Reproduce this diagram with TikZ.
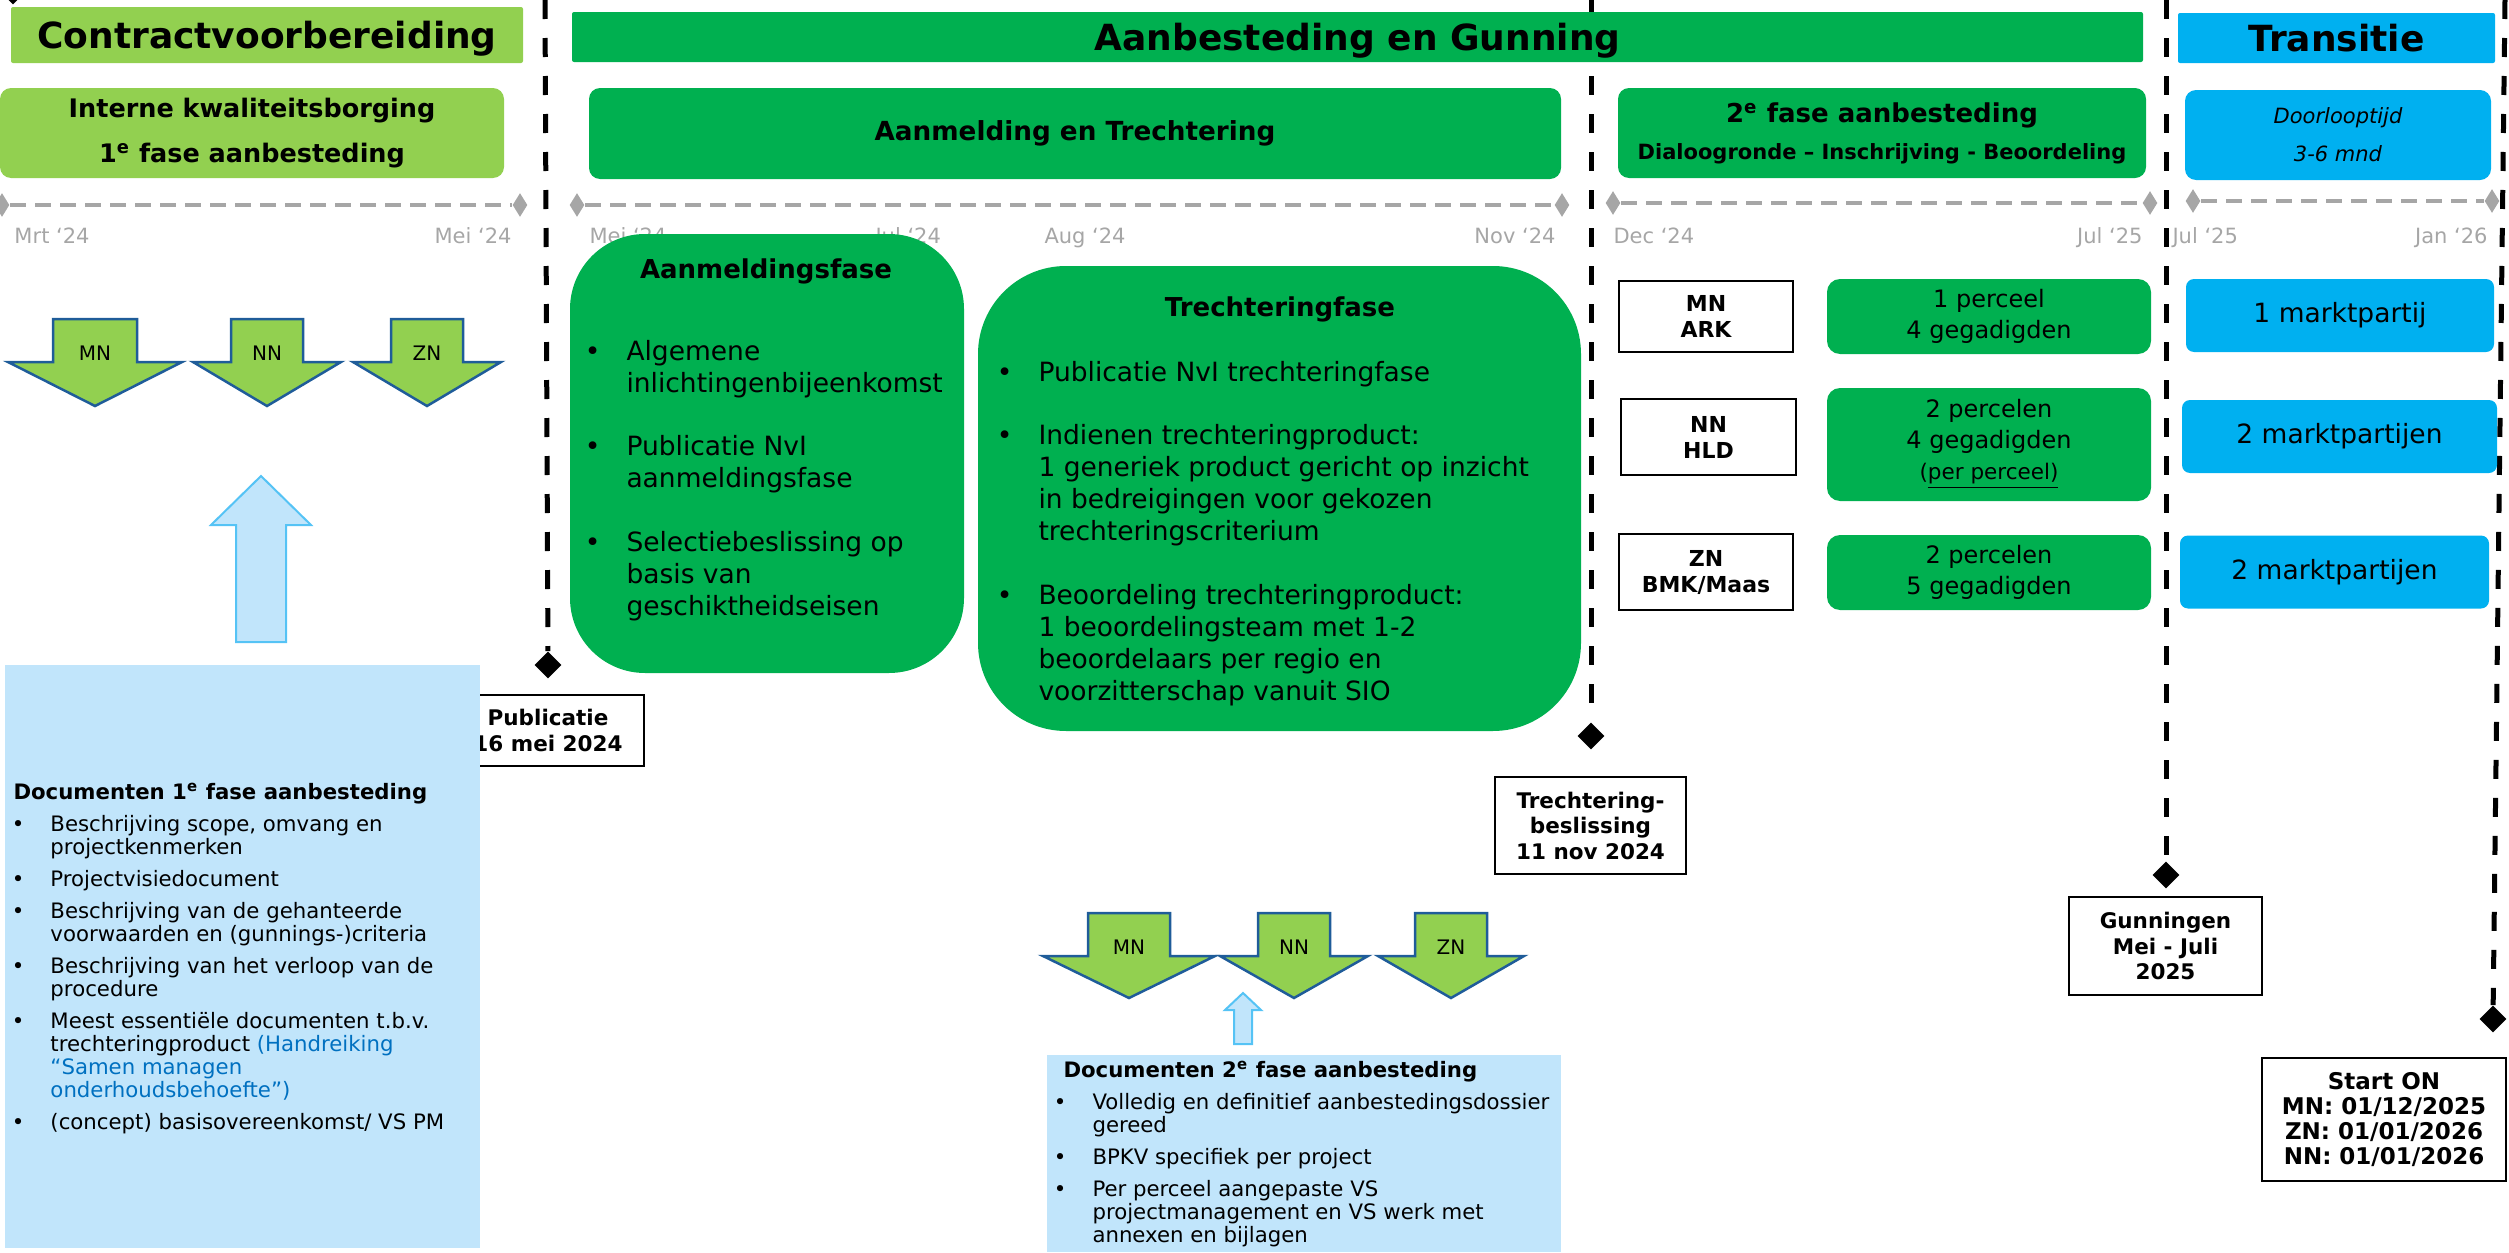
\documentclass[tikz,border=0pt]{standalone}
\usepackage{fontspec}
\setmainfont{DejaVu Sans}
\usetikzlibrary{shapes.geometric}

\definecolor{lgreen}{HTML}{92D050}
\definecolor{dgreen}{HTML}{00B050}
\definecolor{tblue}{HTML}{00B0F0}
\definecolor{docblue}{HTML}{C1E5FB}
\definecolor{arrowedge}{HTML}{1F5C99}
\definecolor{upedge}{HTML}{55C3F5}
\definecolor{linkblue}{HTML}{0070C0}
\definecolor{tlgray}{HTML}{A6A6A6}

\def\pxu{0.4pt}
\newcommand\fsz[2]{\fontsize{#1}{#2}\selectfont}
\newcommand\bul{\leavevmode\llap{\textbullet\hspace{10.4pt}}}

\tikzset{
  hdr/.style={inner sep=0, text depth=0pt, font=\fsz{14.4}{17}\bfseries, rounded corners=2*\pxu},
  phase/.style={inner sep=0, align=center, rounded corners=11*\pxu},
  bigbox/.style={inner sep=0, fill=dgreen},
  boxtitle/.style={inner sep=0, font=\fsz{10.4}{12.8}\bfseries},
  biglist/.style={anchor=base west, inner sep=0, align=left, font=\fsz{10.6}{12.8}},
  regbox/.style={draw=black, line width=1pt, fill=white, inner sep=0, align=center, font=\fsz{8.8}{10.4}\bfseries},
  countbox/.style={fill=dgreen, inner sep=0, align=center, rounded corners=13*\pxu, minimum width=324*\pxu, font=\fsz{9.6}{12.4}},
  partybox/.style={fill=tblue, inner sep=0, minimum height=73*\pxu, rounded corners=8*\pxu, font=\fsz{10.6}{12.8}},
  msbox/.style={draw=black, line width=1pt, fill=white, inner sep=0, align=center, font=\fsz{8.6}{10.2}\bfseries},
  milestone/.style={diamond, fill=black, inner sep=0, minimum width=27*\pxu, minimum height=27*\pxu},
  msline/.style={line width=2pt, dash pattern=on 7.6pt off 7.6pt},
  tick/.style={diamond, fill=tlgray, inner sep=0, minimum width=15*\pxu, minimum height=24*\pxu},
  tline/.style={draw=tlgray, line width=1.6pt, dash pattern=on 6.4pt off 3.6pt},
  datelbl/.style={text=tlgray, inner sep=0, font=\fsz{8.4}{10}},
  dnarrow/.style={fill=lgreen, draw=arrowedge, line width=1pt, line join=miter},
  arrowlbl/.style={inner sep=0, font=\fsz{8}{9.6}},
  uparrow/.style={fill=docblue, draw=upedge, line width=0.8pt},
  docbox/.style={fill=docblue, inner sep=0},
  doctitle/.style={anchor=base west, inner sep=0, font=\fsz{8.5}{9.2}\bfseries},
  doclist/.style={anchor=base west, inner sep=0, align=left, font=\fsz{8.5}{9.2}}
}

% block arrow pointing down: name, label, x, top, tip, half body, half wing
\newcommand\regionarrow[7]{%
  \draw[dnarrow] (#3-#6,#4) -- (#3+#6,#4) -- (#3+#6,#4+43) -- (#3+#7,#4+43)
    -- (#3,#5) -- (#3-#7,#4+43) -- (#3-#6,#4+43) -- cycle;
  \node[arrowlbl] (#1) at (#3,#4+34) {#2};}
% block arrow pointing up: x, tip, head base, bottom, half head, half shaft
\newcommand\docarrow[6]{%
  \draw[uparrow] (#1,#2) -- (#1+#5,#3) -- (#1+#6,#3) -- (#1+#6,#4)
    -- (#1-#6,#4) -- (#1-#6,#3) -- (#1-#5,#3) -- cycle;}

\begin{document}
\begin{tikzpicture}[x=0.4pt, y=-0.4pt]
  \useasboundingbox (0,0) rectangle (2509,1253);

  % milestones
  \foreach \i/\xa/\xb/\yb in {1/545/548/665, 2/1591/1591/736, 3/2166/2166/875, 4/2505/2493/1019} {
    \coordinate (mtop\i) at (\xa,0);
    \node[milestone] (ms\i) at (\xb,\yb) {};
    \draw[msline] (mtop\i) -- (ms\i);
  }
  \node[milestone] (mscut) at (13,-9) {};

  % headers
  \node[hdr, fill=lgreen, minimum width=512*\pxu, minimum height=56*\pxu] (contract) at (267,35) {Contractvoorbereiding};
  \node[hdr, fill=dgreen, minimum width=1571*\pxu, minimum height=50*\pxu] (aanbest) at (1357.5,37) {Aanbesteding en Gunning};
  \node[hdr, fill=tblue, minimum width=317*\pxu, minimum height=50*\pxu] (transitie) at (2336.5,38) {Transitie};

  \node[phase, fill=lgreen, minimum width=504*\pxu, minimum height=90*\pxu, font=\fsz{10.2}{18}\bfseries] (interne) at (252,133)
    {Interne kwaliteitsborging\\1\textsuperscript{e} fase aanbesteding};
  \node[phase, fill=dgreen, minimum width=972*\pxu, minimum height=91*\pxu, font=\fsz{10.5}{13}\bfseries] (aanmtrecht) at (1075,133.5)
    {Aanmelding en Trechtering};
  \node[phase, fill=dgreen, minimum width=528*\pxu, minimum height=90*\pxu, font=\fsz{8.4}{14.8}\bfseries] (fase2) at (1882,133)
    {{\fsz{10.4}{14.8}2\textsuperscript{e} fase aanbesteding}\\Dialoogronde – Inschrijving - Beoordeling};
  \node[phase, fill=tblue, minimum width=306*\pxu, minimum height=90*\pxu, font=\fsz{8.4}{15.2}\itshape] (doorloop) at (2338,135)
    {Doorlooptijd\\3-6 mnd};

  % time lines
  \foreach \i/\xa/\xb/\yy in {1/2/520/205, 2/577/1562/205, 3/1613/2150/203, 4/2193/2492/201} {
    \node[tick] (tla\i) at (\xa,\yy) {};
    \node[tick] (tlb\i) at (\xb,\yy) {};
    \draw[tline] (tla\i) -- (tlb\i);
  }
  \foreach \i/\xx/\an/\txt in {1/14/west/Mrt ‘24, 2/512/east/Mei ‘24, 3/589/west/Mei ‘24, 4/875/west/Jul ‘24,
      5/1044/west/Aug ‘24, 6/1556/east/Nov ‘24, 7/1613/west/Dec ‘24, 8/2143/east/Jul ‘25,
      9/2172/west/Jul ‘25, 10/2488/east/Jan ‘26}
    \node[datelbl, anchor=base \an] (date\i) at (\xx,243) {\txt};

  % aanmelding and trechtering (lists sit on their last baseline)
  \node[bigbox, rounded corners=75*\pxu, minimum width=394*\pxu, minimum height=439*\pxu] (aanmfase) at (767,453.5) {};
  \node[boxtitle] (aanmtitle) at (766,271) {Aanmeldingsfase};
  \node[biglist] (aanmlist) at (626,615) {\bul Algemene\\inlichtingenbijeenkomst\\[12.6pt]%
    \bul Publicatie NvI\\aanmeldingsfase\\[12.6pt]%
    \bul Selectiebeslissing op\\basis van\\geschiktheidseisen};

  \node[bigbox, rounded corners=88*\pxu, minimum width=603*\pxu, minimum height=465*\pxu] (trechfase) at (1279.5,498.5) {};
  \node[boxtitle] (trechtitle) at (1280,309) {Trechteringfase};
  \node[biglist] (trechlist) at (1038,700) {\bul Publicatie NvI trechteringfase\\[12.6pt]%
    \bul Indienen trechteringproduct:\\1 generiek product gericht op inzicht\\in bedreigingen voor gekozen\\trechteringscriterium\\[12.6pt]%
    \bul Beoordeling trechteringproduct:\\1 beoordelingsteam met 1-2\\beoordelaars per regio en\\voorzitterschap vanuit SIO};

  % regions
  \node[regbox, minimum width=174*\pxu, minimum height=71*\pxu] (mnark) at (1706,316.5) {MN\\ARK};
  \node[regbox, minimum width=175*\pxu, minimum height=76*\pxu] (nnhld) at (1708.5,437) {NN\\HLD};
  \node[regbox, minimum width=174*\pxu, minimum height=76*\pxu] (znbmk) at (1706,572) {ZN\\BMK/Maas};

  \node[countbox, minimum height=75*\pxu] (mncount) at (1989,316.5) {1 perceel\\4 gegadigden};
  \node[countbox, minimum height=113*\pxu] (nncount) at (1989,444.5) {2 percelen\\4 gegadigden\\{\fsz{8.6}{12.8}(\underline{per perceel)}}};
  \node[countbox, minimum height=75*\pxu] (zncount) at (1989,572.5) {2 percelen\\5 gegadigden};

  \node[partybox, minimum width=308*\pxu] (mnparty) at (2340,315.5) {1 marktpartij};
  \node[partybox, minimum width=315*\pxu] (nnparty) at (2339.5,436.5) {2 marktpartijen};
  \node[partybox, minimum width=309*\pxu] (znparty) at (2334.5,572) {2 marktpartijen};

  % arrows
  \foreach \nm/\lb/\xc/\hb/\hw in {a/MN/95/42/87, b/NN/267/36/74, c/ZN/427/36/74}
    \regionarrow{first\nm}{\lb}{\xc}{319}{406}{\hb}{\hw};
  \foreach \nm/\lb/\xc/\hb/\hw in {a/MN/1129/41/86, b/NN/1294/36/74, c/ZN/1451/36/73}
    \regionarrow{second\nm}{\lb}{\xc}{913}{998}{\hb}{\hw};
  \docarrow{261}{476}{525}{642}{50}{25}
  \docarrow{1243}{993}{1010}{1044}{18}{9}

  % milestone labels
  \node[msbox, minimum width=192*\pxu, minimum height=71*\pxu] (pub) at (548,730.5) {Publicatie\\16 mei 2024};
  \node[msbox, minimum width=191*\pxu, minimum height=97*\pxu] (trbesl) at (1590.5,825.5) {Trechtering-\\beslissing\\11 nov 2024};
  \node[msbox, minimum width=193*\pxu, minimum height=98*\pxu] (gunning) at (2165.5,946) {Gunningen\\Mei - Juli\\2025};
  \node[msbox, minimum width=244*\pxu, minimum height=123*\pxu, font=\fsz{9.2}{10.1}\bfseries] (starton) at (2384,1119.5)
    {Start ON\\MN: 01/12/2025\\ZN: 01/01/2026\\NN: 01/01/2026};

  % documents
  \node[docbox, minimum width=475*\pxu, minimum height=583*\pxu] (doc1) at (242.5,956.5) {};
  \node[doctitle] (doc1title) at (13,799) {Documenten 1\textsuperscript{e} fase aanbesteding};
  \node[doclist] (doc1list) at (50,1129) {\bul Beschrijving scope, omvang en\\projectkenmerken\\[3.6pt]%
    \bul Projectvisiedocument\\[3.6pt]%
    \bul Beschrijving van de gehanteerde\\voorwaarden en (gunnings-)criteria\\[3.6pt]%
    \bul Beschrijving van het verloop van de\\procedure\\[3.6pt]%
    \bul Meest essentiële documenten t.b.v.\\trechteringproduct {\color{linkblue}(Handreiking}\\{\color{linkblue}“Samen managen}\\{\color{linkblue}onderhoudsbehoefte”)}\\[3.6pt]%
    \bul (concept) basisovereenkomst/ VS PM};

  \node[docbox, minimum width=514*\pxu, minimum height=197*\pxu] (doc2) at (1304,1153.5) {};
  \node[doctitle] (doc2title) at (1063,1077) {Documenten 2\textsuperscript{e} fase aanbesteding};
  \node[doclist] (doc2list) at (1092,1242) {\bul Volledig en definitief aanbestedingsdossier\\gereed\\[3.6pt]%
    \bul BPKV specifiek per project\\[3.6pt]%
    \bul Per perceel aangepaste VS\\projectmanagement en VS werk met\\annexen en bijlagen};
\end{tikzpicture}
\end{document}
